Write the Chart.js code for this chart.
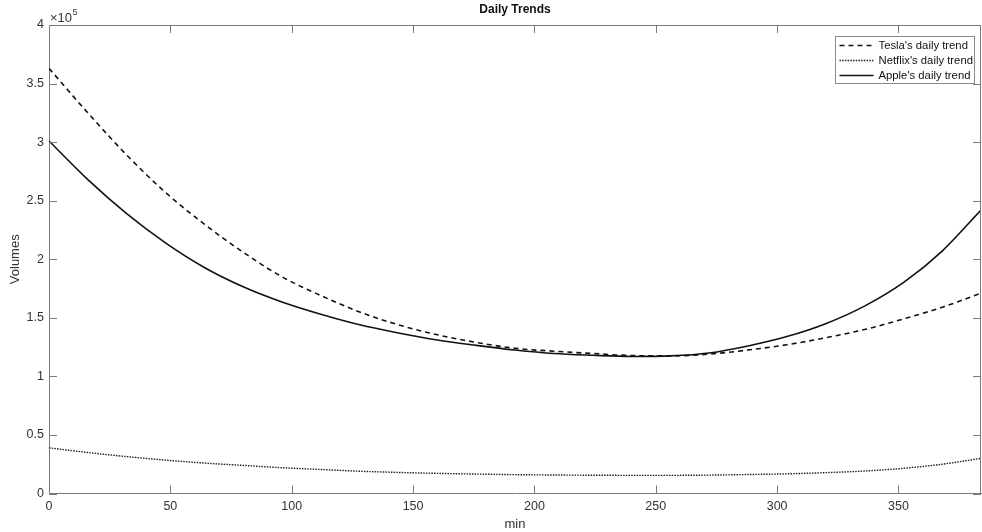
<!DOCTYPE html>
<html>
<head>
<meta charset="utf-8">
<script src="https://cdn.jsdelivr.net/npm/chart.js@4/dist/chart.umd.min.js"></script>
<style>
html,body{margin:0;padding:0;background:#fff;}
#wrap{width:982px;height:532px;position:relative;}
</style>
</head>
<body>
<div id="wrap"><canvas id="c" width="982" height="532"></canvas></div>
<script>
// Minutes (x values)
const minutes = [0,16,32,48,64,80,96,112,128,144,160,176,192,208,224,240,256,272,288,304,320,336,352,368,384];
// Volumes (units of 1e5)
const tesla   = [3.63,3.25,2.89,2.57,2.30,2.06,1.85,1.69,1.55,1.44,1.355,1.29,1.24,1.215,1.195,1.178,1.175,1.19,1.225,1.27,1.33,1.40,1.49,1.59,1.71];
const netflix = [0.39,0.35,0.315,0.285,0.26,0.24,0.22,0.205,0.19,0.18,0.172,0.166,0.161,0.158,0.156,0.155,0.155,0.157,0.162,0.168,0.178,0.192,0.215,0.25,0.30];
const apple   = [3.01,2.68,2.39,2.14,1.93,1.765,1.635,1.53,1.44,1.37,1.31,1.265,1.225,1.195,1.18,1.17,1.175,1.20,1.26,1.34,1.45,1.60,1.80,2.07,2.42];
const seriesNames = ["Tesla's daily trend","Netflix's daily trend","Apple's daily trend"];
const xTickValues = [0,50,100,150,200,250,300,350];
const yTickLabels = ['0','0.5','1','1.5','2','2.5','3','3.5','4'];
const SCALE = 1e5;

const toPts = arr => minutes.map((m,i)=>({x:m,y:arr[i]*SCALE}));
const FONT = "'Liberation Sans', Arial, Helvetica, sans-serif";
const AX = '#7a7a7a';
const TXT = '#333333';

const deco = {
  id:'deco',
  afterDraw(chart){
    const ctx = chart.ctx, a = chart.chartArea;
    const xs = chart.scales.x, ys = chart.scales.y;
    ctx.save();
    ctx.strokeStyle = AX; ctx.lineWidth = 1;
    // top & right border
    ctx.beginPath();
    ctx.moveTo(a.left, a.top+0.5); ctx.lineTo(a.right, a.top+0.5);
    ctx.moveTo(a.right-0.5, a.top); ctx.lineTo(a.right-0.5, a.bottom);
    ctx.stroke();
    // inward ticks
    const TL = 8;
    ctx.beginPath();
    xs.ticks.forEach(t=>{
      const px = Math.round(xs.getPixelForValue(t.value))+0.5;
      ctx.moveTo(px,a.bottom); ctx.lineTo(px,a.bottom-TL);
      ctx.moveTo(px,a.top); ctx.lineTo(px,a.top+TL);
    });
    ys.ticks.forEach(t=>{
      const py = Math.round(ys.getPixelForValue(t.value))+0.5;
      ctx.moveTo(a.left,py); ctx.lineTo(a.left+TL,py);
      ctx.moveTo(a.right,py); ctx.lineTo(a.right-TL,py);
    });
    ctx.stroke();
    // exponent label
    ctx.fillStyle = TXT;
    ctx.textBaseline = 'alphabetic'; ctx.textAlign = 'left';
    ctx.font = '13px ' + FONT;
    ctx.fillText('\u00d710', 50, 22);
    const w = ctx.measureText('\u00d710').width;
    ctx.font = '9px ' + FONT;
    ctx.fillText('5', 50 + w + 0.5, 15);
    // title
    ctx.font = 'bold 12px ' + FONT;
    ctx.textAlign = 'center';
    ctx.fillStyle = '#111';
    ctx.fillText('Daily Trends', (a.left+a.right)/2, 13);
    // legend
    const lx = 835.5, ly = 36.5, lw = 139, lh = 47;
    ctx.fillStyle = '#fff';
    ctx.fillRect(lx, ly, lw, lh);
    ctx.strokeStyle = '#8a8a8a'; ctx.lineWidth = 1;
    ctx.strokeRect(lx, ly, lw, lh);
    ctx.font = '11.3px ' + FONT;
    ctx.textAlign = 'left'; ctx.textBaseline = 'middle';
    chart.data.datasets.forEach((ds,i)=>{
      const y = ly + 9 + i*15;
      ctx.beginPath();
      ctx.strokeStyle = ds.borderColor;
      ctx.lineWidth = ds.borderWidth;
      ctx.setLineDash(ds.borderDash || []);
      ctx.moveTo(lx+4, y); ctx.lineTo(lx+38, y);
      ctx.stroke();
      ctx.setLineDash([]);
      ctx.fillStyle = '#111';
      ctx.fillText(ds.label, lx+43, y+0.5);
    });
    ctx.restore();
  }
};

new Chart(document.getElementById('c'), {
  type:'line',
  data:{
    datasets:[
      {label:seriesNames[0], data:toPts(tesla), borderColor:'#111', borderWidth:1.6, borderDash:[5,4], pointRadius:0, tension:0.4, cubicInterpolationMode:'monotone', fill:false},
      {label:seriesNames[1], data:toPts(netflix), borderColor:'#222', borderWidth:1.4, borderDash:[1.5,1.2], pointRadius:0, tension:0.4, cubicInterpolationMode:'monotone', fill:false},
      {label:seriesNames[2], data:toPts(apple), borderColor:'#111', borderWidth:1.6, pointRadius:0, tension:0.4, cubicInterpolationMode:'monotone', fill:false}
    ]
  },
  options:{
    responsive:false, animation:false, maintainAspectRatio:false,
    layout:{padding:{top:25, right:1, left:0, bottom:0}},
    plugins:{legend:{display:false}, title:{display:false}, tooltip:{enabled:false}},
    scales:{
      x:{type:'linear', min:0, max:384,
        afterBuildTicks(s){ s.ticks = xTickValues.map(v=>({value:v})); },
        ticks:{color:TXT, font:{family:FONT, size:12.5}, padding:6, maxRotation:0, autoSkip:false,
          callback:v=>String(v)},
        grid:{display:true, drawOnChartArea:false, drawTicks:false},
        border:{display:true, color:AX, width:1},
        title:{display:true, text:'min', color:TXT, font:{family:FONT, size:13}, padding:{top:0,bottom:0}},
        afterFit(s){ s.height = 38.5; }
      },
      y:{type:'linear', min:0, max:4*SCALE,
        ticks:{stepSize:0.5*SCALE, color:TXT, font:{family:FONT, size:12.5}, padding:5,
          callback:(v)=>{ const i = Math.round(v/(0.5*SCALE)); return yTickLabels[i] ?? ''; }},
        grid:{display:true, drawOnChartArea:false, drawTicks:false},
        border:{display:true, color:AX, width:1},
        title:{display:true, text:'Volumes', color:TXT, font:{family:FONT, size:13}, padding:{top:8,bottom:0}},
        afterFit(s){ s.width = 49; }
      }
    }
  },
  plugins:[deco]
});
</script>
</body>
</html>
